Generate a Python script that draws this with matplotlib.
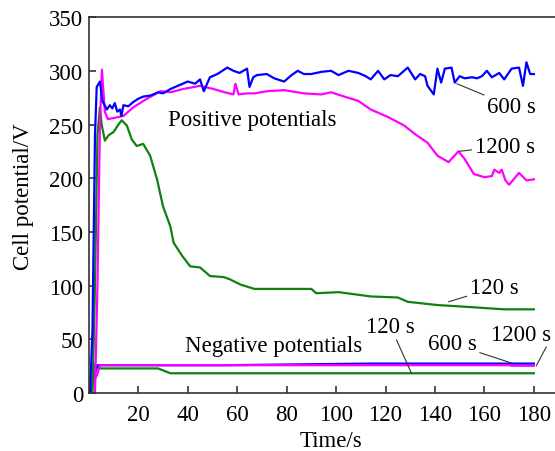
import matplotlib.pyplot as plt

# ===== DANE =====
# dodatnie potencjaly
t_600 = [0.5, 1.5, 2.0, 2.5, 3.2, 4.5, 5.5, 7.3, 8.5, 9.5, 10.5, 11.5, 12.6, 13.2, 14, 16, 18, 20, 22, 25,
         28, 30, 33, 36, 40, 43, 45, 46.5, 49, 52, 56, 58.5, 61, 64, 65, 66.5, 68, 72, 75, 79, 82, 84.5,
         87, 90, 94, 98, 101, 105, 109, 112, 114, 117, 119.5, 122, 125, 129, 132, 134, 136, 137, 139.5,
         141, 142.5, 144, 146.7, 148, 150, 152, 155, 157, 159, 161, 163, 166, 168, 171, 174, 175.6,
         177, 178.5, 180]
v_600 = [0, 60, 150, 240, 285, 290, 272, 264, 268, 265, 270, 262, 264, 258, 268, 267, 271, 274, 276, 277,
         280, 279, 283, 286, 290, 288, 292, 281, 294, 297, 303, 300, 298, 302, 285, 294, 296, 297, 293, 290,
         296, 300, 297, 297, 299, 300, 296, 300, 298, 295, 292, 300, 292, 296, 295, 303, 292, 297, 295, 286,
         278, 302, 289, 302, 303, 289, 295, 293, 294, 293, 295, 300, 294, 298, 292, 302, 303, 286, 308, 297,
         297]

t_1200 = [2.5, 3.5, 4.5, 5.3, 6.5, 7.7, 10, 14, 18, 23.5, 29, 33, 38, 45, 50.5, 55, 58.5, 59.3, 60.6, 64,
          67, 72, 79, 87, 94, 98, 102, 109, 114, 121, 127.6, 132, 137, 141, 145.5, 149.5, 152, 155.7, 160,
          163, 164, 166, 167, 168.5, 170, 174, 177, 180]
v_1200 = [0, 100, 250, 301, 262, 255, 256, 258, 266, 274, 281, 280, 283, 286, 283, 280, 278, 288, 278, 279,
          279, 281, 282, 279, 278, 280, 277, 272, 264, 257, 249, 241, 233, 221, 215, 225, 218, 204, 201,
          202, 208, 205, 208, 198, 194, 205, 198, 199]

t_120 = [1.5, 2.5, 3.5, 4.5, 5.2, 6.5, 8, 10, 12, 13.3, 15.4, 17.4, 19.4, 22, 24.8, 27.6, 30, 33, 34.3,
         37.7, 41, 45, 49, 54.6, 57, 61.4, 67, 72, 78, 90, 92, 101, 114, 125, 129, 141, 155, 168, 180]
v_120 = [0, 100, 240, 266, 250, 235, 240, 243, 250, 254, 249, 236, 230, 232, 221, 199, 174, 155, 140,
         128, 118, 117, 109, 108, 106, 101, 97, 97, 97, 97, 93, 94, 90, 89, 85, 82, 80, 78, 78]

# ujemne potencjaly
t_600n = [0.5, 1.5, 2.5, 3.5, 55, 114, 180]
v_600n = [0, 8, 18, 26, 26, 27.5, 27.5]

t_1200n = [0.5, 1.5, 2.5, 3.5, 4.5, 170, 171, 180]
v_1200n = [12, 10, 13, 18, 26, 26, 25.5, 25.5]

t_120n = [0.5, 1.5, 2.5, 3.5, 4.5, 28, 33, 180]
v_120n = [5, 15, 27, 24, 23, 23, 18.5, 18.5]

x_ticks = [20, 40, 60, 80, 100, 120, 140, 160, 180]
y_ticks = [0, 50, 100, 150, 200, 250, 300, 350]

# ===== STYL =====
plt.rcParams['font.family'] = ['Liberation Serif', 'DejaVu Serif']
plt.rcParams['font.size'] = 16.5

BLUE = '#0000ff'
MAGENTA = '#ff00ff'
GREEN = '#108010'
DARK = '#333333'

fig = plt.figure(figsize=(5.55, 4.52), dpi=100)
ax = fig.add_axes([0.160, 0.128, 0.842, 0.832])

lw = 1.6
ax.plot(t_120n, v_120n, color=GREEN, lw=lw)
ax.plot(t_600n, v_600n, color=BLUE, lw=lw)
ax.plot(t_1200n, v_1200n, color=MAGENTA, lw=lw)

ax.plot(t_120, v_120, color=GREEN, lw=lw)
ax.plot(t_1200, v_1200, color=MAGENTA, lw=lw)
ax.plot(t_600, v_600, color=BLUE, lw=lw)

ax.set_xlim(0, 189)
ax.set_ylim(0, 350)
ax.set_xticks(x_ticks)
ax.set_yticks(y_ticks)

ax.spines['right'].set_visible(False)
for s in ['left', 'bottom', 'top']:
    ax.spines[s].set_linewidth(1.2)
    ax.spines[s].set_color(DARK)
ax.tick_params(direction='in', length=5, width=1.2, color=DARK, top=False, right=False)
ax.tick_params(axis='x', pad=8)
ax.tick_params(axis='y', pad=4)

ax.set_xlabel('Time/s')
ax.set_ylabel('Cell potential/V')
ax.xaxis.set_label_coords(0.518, -0.098)
ax.yaxis.set_label_coords(-0.117, 0.525)

# ===== OPISY =====
ax.text(32, 255, 'Positive potentials', va='center', ha='left')
ax.text(39, 44, 'Negative potentials', va='center', ha='left')

arrow = dict(arrowstyle='-', color=DARK, lw=0.8, shrinkA=0, shrinkB=0)
ax.annotate('600 s', xy=(148.8, 288), xytext=(161, 267), va='center', ha='left', arrowprops=arrow)
ax.annotate('1200 s', xy=(149.6, 225), xytext=(156, 230), va='center', ha='left', arrowprops=arrow)
ax.annotate('120 s', xy=(145.5, 85), xytext=(154, 98), va='center', ha='left', arrowprops=arrow)
ax.annotate('120 s', xy=(130.5, 18.6), xytext=(122, 62), va='center', ha='center', arrowprops=arrow)
ax.annotate('600 s', xy=(171, 28), xytext=(157, 46), va='center', ha='right', arrowprops=arrow)
ax.text(175, 55, '1200 s', va='center', ha='center')
ax.plot([185, 181], [43, 25.5], color=DARK, lw=0.8, clip_on=False)

plt.savefig('out.png', dpi=100)
